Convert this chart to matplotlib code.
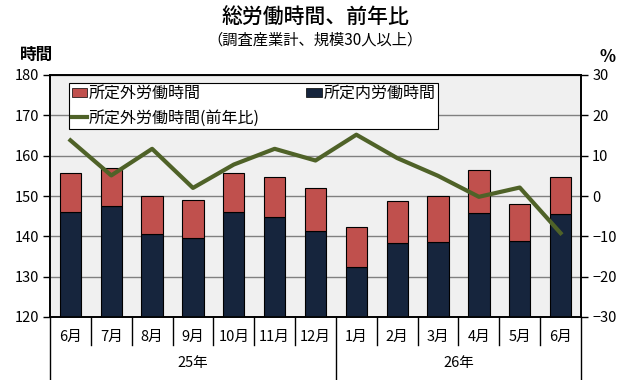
import numpy as np
import matplotlib.pyplot as plt
from matplotlib.patches import Patch
from matplotlib.lines import Line2D
import matplotlib.transforms as mtrans

plt.rcParams['font.family'] = ['Noto Sans CJK JP', 'DejaVu Sans']

# データ
months = ["6月", "7月", "8月", "9月", "10月", "11月", "12月",
          "1月", "2月", "3月", "4月", "5月", "6月"]
years = ["25年", "26年"]
year_counts = [7, 6]
shoteinai = [146.0, 147.4, 140.5, 139.5, 146.0, 144.7, 141.3,
             132.5, 138.4, 138.7, 145.8, 138.9, 145.6]
shoteigai = [9.6, 9.6, 9.5, 9.6, 9.6, 10.1, 10.6,
             9.9, 10.4, 11.3, 10.6, 9.1, 9.0]
gai_yoy = [13.8, 5.1, 11.7, 2.0, 7.8, 11.7, 8.8,
           15.2, 9.4, 5.0, -0.2, 2.1, -9.2]

c_red = '#C0504D'
c_navy = '#16253D'
c_green = '#4F6228'

fig = plt.figure(figsize=(6.3, 3.8), dpi=100)
ax = fig.add_axes([50 / 630, 1 - 317 / 380, 531 / 630, 242 / 380])
ax.set_facecolor('#F0F0F0')

x = np.arange(len(months))
ax.bar(x, shoteinai, width=0.52, color=c_navy, edgecolor='black', linewidth=0.8, zorder=3)
ax.bar(x, shoteigai, width=0.52, bottom=shoteinai, color=c_red, edgecolor='black', linewidth=0.8, zorder=3)

ax.set_ylim(120, 180)
ax.set_yticks(range(120, 181, 10))
ax.set_xlim(-0.5, len(months) - 0.5)
ax.yaxis.grid(True, color='#808080', linewidth=1, zorder=0)
ax.set_axisbelow(True)
ax.tick_params(axis='y', labelsize=10.5, length=5, width=1, pad=3)
for s in ax.spines.values():
    s.set_linewidth(1.2)

# 月ラベル
ax.set_xticks(x)
ax.set_xticklabels(months, fontsize=10.5)
ax.tick_params(axis='x', length=0, pad=9)

# 区切り線
tr = mtrans.blended_transform_factory(ax.transData, ax.transAxes)
starts = np.cumsum([0] + year_counts)
for b in range(len(months) + 1):
    depth = -63 / 242 if b in starts else -28 / 242
    ax.plot([b - 0.5, b - 0.5], [0, depth], transform=tr, color='black',
            linewidth=1, clip_on=False)
for i, y in enumerate(years):
    c = (starts[i] + starts[i + 1] - 1) / 2
    ax.text(c, -46 / 242, y, transform=tr, ha='center', va='center', fontsize=10.5)

# 前年比
ax2 = ax.twinx()
ax2.plot(x, gai_yoy, color=c_green, linewidth=3, zorder=4)
ax2.set_ylim(-30, 30)
ax2.set_yticks(range(-30, 31, 10))
ax2.tick_params(axis='y', labelsize=10.5, length=5, width=1, pad=3)
for s in ax2.spines.values():
    s.set_linewidth(1.2)

handles = [Patch(facecolor=c_red, edgecolor='black', linewidth=0.5),
           Line2D([0], [0], color=c_green, linewidth=3),
           Patch(facecolor=c_navy, edgecolor='black', linewidth=0.5)]
labels = ["所定外労働時間", "所定外労働時間(前年比)", "所定内労働時間"]
leg = ax2.legend(handles, labels, ncol=2, loc='upper left',
                 bbox_to_anchor=(0.036, 0.967, 0.695, 0.0), mode='expand',
                 fontsize=11.5, frameon=True, fancybox=False, borderpad=0.15,
                 handlelength=1.0, handleheight=0.5, handletextpad=0.1,
                 labelspacing=0.45, borderaxespad=0)
leg.get_frame().set_edgecolor('black')
leg.get_frame().set_linewidth(0.8)
leg.get_frame().set_alpha(1)

fig.text(0.5, 1 - 17 / 380, "総労働時間、前年比", ha='center', va='center',
         fontsize=15, fontweight='medium')
fig.text(0.5, 1 - 40 / 380, "（調査産業計、規模30人以上）", ha='center', va='center',
         fontsize=11)
fig.text(37 / 630, 1 - 55 / 380, "時間", ha='center', va='center', fontsize=12,
         fontweight='bold')
fig.text(608 / 630, 1 - 57 / 380, "%", ha='center', va='center', fontsize=12,
         fontweight='bold')

fig.savefig('out.png', dpi=100)
